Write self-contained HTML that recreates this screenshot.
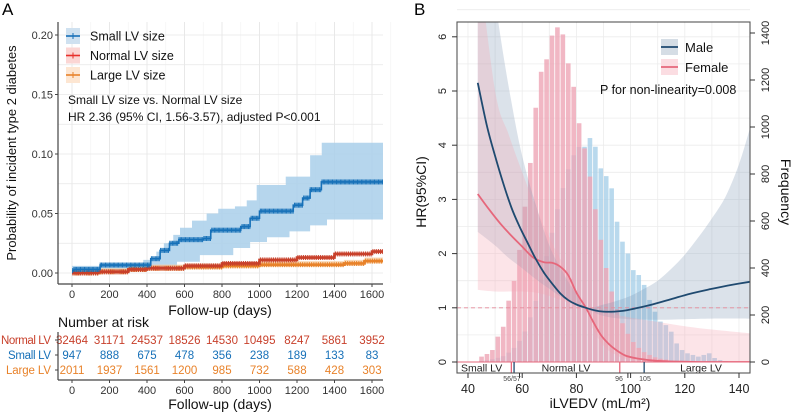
<!DOCTYPE html>
<html><head><meta charset="utf-8"><style>
html,body{margin:0;padding:0;background:#fff;}
svg{display:block;font-family:"Liberation Sans",sans-serif;}
</style></head><body>
<svg id="fig" width="797" height="412" viewBox="0 0 797 412" xmlns="http://www.w3.org/2000/svg">
<defs>
<clipPath id="clipA"><rect x="58" y="22" width="325" height="261"/></clipPath>
<clipPath id="clipB"><rect x="457" y="22" width="293" height="340"/></clipPath>
</defs>
<g id="panelA"></g>
<g id="panelB"></g>
</svg>
<script>
// ---------- Panel A data ----------
const kmTicks = [0,200,400,600,800,1000,1200,1400,1600];
const probTicks = [0,0.05,0.10,0.15,0.20];
const probTickLabels = ["0.00","0.05","0.10","0.15","0.20"];
const smallTimes = [0,10,150,420,470,520,570,700,740,900,950,1000,1180,1230,1270,1330];
const smallProb  = [0.002,0.003,0.0067,0.012,0.019,0.025,0.028,0.029,0.036,0.039,0.046,0.052,0.057,0.063,0.070,0.0765];
const smallUpT = [0,150,380,450,490,540,576,640,718,780,869,932,985,1140,1270,1332];
const smallUpP = [0.006,0.008,0.011,0.018,0.025,0.032,0.038,0.044,0.050,0.054,0.056,0.061,0.074,0.081,0.099,0.1095];
const smallLoT = [0,150,473,560,682,860,950,1040,1160,1270,1360];
const smallLoP = [0.001,0.0025,0.0045,0.0095,0.015,0.021,0.026,0.030,0.035,0.040,0.045];
const normTimes = [0,140,300,400,600,800,1000,1200,1400,1600];
const normProb  = [0,0.001,0.003,0.004,0.006,0.008,0.011,0.013,0.016,0.018];
const largeTimes = [0,150,300,400,600,800,1000,1200,1450,1560];
const largeProb  = [0,0.001,0.003,0.004,0.005,0.006,0.007,0.007,0.008,0.010];
const riskGroups = ["Normal LV","Small LV","Large LV"];
const riskNormal = [32464,31171,24537,18526,14530,10495,8247,5861,3952];
const riskSmall  = [947,888,675,478,356,238,189,133,83];
const riskLarge  = [2011,1937,1561,1200,985,732,588,428,303];

// ---------- Panel B data ----------
const binStart = 44, binWidth = 2;
const maleCounts = [5,8,12,18,25,40,60,90,130,190,260,350,450,550,650,740,820,880,915,916,953,916,824,791,739,597,512,462,391,370,328,264,214,172,157,129,79,51,37,30,23,30,37,17,8,4];
const femaleCounts = [23,34,51,108,150,261,345,477,661,847,1082,1235,1288,1389,1424,1394,1271,1171,1016,909,789,650,520,400,300,225,165,120,85,60,42,30,20,14,10,6,4];
const maleX  = [43.6,47,50,53,56,59,62,65,68,71,74,77,80,83.5,87,90,94,98,102,108,115,122,130,137,144];
const maleHR = [5.15,4.35,3.8,3.3,2.85,2.5,2.2,1.9,1.65,1.45,1.27,1.14,1.06,1.0,0.95,0.93,0.93,0.95,0.99,1.06,1.16,1.26,1.35,1.42,1.48];
const maleUpX = [43.6,48,52,56,60,65,70,75,80,83.5,90,95,100,105,110,115,120,125,130,135,140,144];
const maleUp  = [9,7.4,6.0,4.8,3.8,2.9,2.15,1.65,1.25,1.0,1.06,1.13,1.22,1.35,1.5,1.72,1.98,2.3,2.65,3.05,3.65,4.3];
const maleLoX = [43.6,50,55,60,65,70,75,80,83.5,88,93,100,110,120,130,144];
const maleLo  = [2.4,2.15,1.92,1.73,1.53,1.35,1.18,1.06,1.0,0.88,0.82,0.79,0.78,0.79,0.8,0.8];
const femX  = [43.6,48,52,56,60,64,68,71,74,77,80,83.5,86,89,92,95,98,102,108,115,125,144];
const femHR = [3.1,2.8,2.55,2.33,2.13,1.93,1.84,1.83,1.76,1.6,1.28,1.0,0.76,0.5,0.33,0.21,0.12,0.07,0.03,0.01,0.0,0.0];
const femUpX = [43.6,50,55,60,65,70,75,80,83.5,90,100,110,120,130,144];
const femUp  = [7.5,5.0,4.2,3.5,2.85,2.3,1.8,1.3,1.0,0.92,0.82,0.74,0.66,0.6,0.53];
const femLoX = [43.6,50,55,60,65,70,75,80,83.5,86,90,95,100,110,144];
const femLo  = [1.33,1.3,1.3,1.3,1.28,1.22,1.13,1.05,1.0,0.62,0.3,0.12,0.04,0.01,0.0];
const xBTicks = [40,60,80,100,120,140];
const hrTicks = [0,1,2,3,4,5,6];
const freqTicks = [0,200,400,600,800,1000,1200,1400];
const cutValues = [56,57,96,105];

const NS = "http://www.w3.org/2000/svg";
function mk(tag, attrs, parent){
  const el = document.createElementNS(NS, tag);
  for (const k in attrs) el.setAttribute(k, attrs[k]);
  parent.appendChild(el);
  return el;
}
function txt(s, attrs, parent){ const t = mk('text', attrs, parent); t.textContent = s; return t; }

// ---------------- PANEL A ----------------
const A = document.getElementById('panelA');
const xA = d => 72 + d*0.1875;
const yA = p => 273 - p*1190;
let e;
e = txt('A', {x:2, y:15, 'font-size':17, fill:'#000'}, A);


for (let d=0; d<=1700; d+=100){
  e = mk('line',{x1:xA(d),x2:xA(d),y1:22,y2:283,stroke:d%200===0?'#e6e6e6':'#f2f2f2','stroke-width':d%200===0?0.9:0.6},A);
  
  
}
for (let p=0; p<=0.2001; p+=0.025){
  e = mk('line',{x1:58,x2:383,y1:yA(p),y2:yA(p),stroke:'#e8e8e8','stroke-width':0.8},A);
  
  
}
function stepPts(ts, ps, end){
  let s = 'M'+xA(ts[0])+','+yA(ps[0]);
  for (let i=1;i<ts.length;i++) s += 'H'+xA(ts[i])+'V'+yA(ps[i]);
  return s + 'H'+xA(end);
}
function bandPath(ut, up, lt, lp, end){
  let s = 'M'+xA(ut[0])+','+yA(up[0]);
  for (let i=1;i<ut.length;i++) s += 'H'+xA(ut[i])+'V'+yA(up[i]);
  s += 'H'+xA(end)+'V'+yA(lp[lp.length-1]);
  for (let i=lt.length-1;i>0;i--) s += 'H'+xA(lt[i])+'V'+yA(lp[i-1]);
  return s + 'H'+xA(lt[0])+'Z';
}
const END = 1720;
const gA = mk('g',{'clip-path':'url(#clipA)'},A);


e = mk('path',{d:bandPath(smallUpT,smallUpP,smallLoT,smallLoP,END),fill:'#a9cfea',opacity:0.85},gA);


e = mk('path',{d:bandPath(largeTimes,largeProb.map(p=>p+0.003),largeTimes,largeProb.map(p=>Math.max(0,p-0.002)),END),fill:'#f7cfa6',opacity:0.8},gA);


e = mk('path',{d:bandPath(normTimes,normProb.map(p=>p+0.0012),normTimes,normProb.map(p=>Math.max(0,p-0.0012)),END),fill:'#eba79b',opacity:0.8},gA);


function censor(ts, ps, color, step){
  for (let d=step/2; d<END; d+=step){
    let p = ps[0];
    for (let i=0;i<ts.length;i++) if (ts[i]<=d) p = ps[i];
    const c = mk('line',{x1:xA(d),x2:xA(d),y1:yA(p)-2.5,y2:yA(p)+2.5,stroke:color,'stroke-width':1},gA);
    
    
  }
}
e = mk('path',{d:stepPts(largeTimes,largeProb,END),fill:'none',stroke:'#e8822a','stroke-width':2.6},gA);


censor(largeTimes,largeProb,'#e8822a',12);
e = mk('path',{d:stepPts(normTimes,normProb,END),fill:'none',stroke:'#c8402b','stroke-width':2.6},gA);


censor(normTimes,normProb,'#c8402b',10);
e = mk('path',{d:stepPts(smallTimes,smallProb,END),fill:'none',stroke:'#1670b8','stroke-width':1.6},gA);


censor(smallTimes,smallProb,'#1670b8',7);
e = mk('line',{x1:58,x2:58,y1:22,y2:284,stroke:'#444','stroke-width':1.2},A);


e = mk('line',{x1:58,x2:383,y1:284,y2:284,stroke:'#444','stroke-width':1.2},A);


probTicks.forEach((p,i)=>{
  e = mk('line',{x1:55,x2:58,y1:yA(p),y2:yA(p),stroke:'#444'},A);
  
  
  e = txt(probTickLabels[i],{x:53,y:yA(p)+4,'font-size':11,'text-anchor':'end',fill:'#333'},A);
  
  
});
kmTicks.forEach(d=>{
  e = mk('line',{x1:xA(d),x2:xA(d),y1:284,y2:287,stroke:'#444'},A);
  
  
  e = txt(String(d),{x:xA(d),y:298,'font-size':11,'text-anchor':'middle',fill:'#333'},A);
  
  
});
e = txt('Follow-up (days)',{x:220,y:315,'font-size':14,'text-anchor':'middle',fill:'#111'},A);


e = txt('Probability of incident type 2 diabetes',{x:0,y:0,'font-size':13,'text-anchor':'middle',fill:'#111',transform:'translate(16,153) rotate(-90)'},A);


const legCols = ['#1670b8','#e8302b','#e8822a'];
const legBg = ['#cfe1f0','#fbd6d4','#fde6d2'];
const legTxt = ['Small LV size','Normal LV size','Large LV size'];
legTxt.forEach((t,i)=>{
  const y = 36 + i*19.5;
  e = mk('rect',{x:66,y:y-8,width:14,height:16,fill:legBg[i]},A);
  
  
  e = mk('line',{x1:66,x2:80,y1:y,y2:y,stroke:legCols[i],'stroke-width':1.6},A);
  
  
  e = mk('line',{x1:73,x2:73,y1:y-3,y2:y+3,stroke:legCols[i],'stroke-width':1},A);
  
  
  e = txt(t,{x:90,y:y+4.5,'font-size':12.5,fill:'#111'},A);
  
  
});
e = txt('Small LV size vs. Normal LV size',{x:68,y:104,'font-size':12,fill:'#111'},A);


e = txt('HR 2.36 (95% CI, 1.56-3.57), adjusted P<0.001',{x:68,y:121,'font-size':12,fill:'#111'},A);


e = txt('Number at risk',{x:58,y:327,'font-size':14,fill:'#111'},A);


const riskRows = [riskNormal,riskSmall,riskLarge];
const riskCols = ['#c8402b','#1670b8','#e8822a'];
const riskLab = ['Normal LV','Small  LV','Large  LV'];
const riskLabW = [50,43,45];
riskRows.forEach((row,r)=>{
  const y = 344 + r*15;
  e = txt(riskLab[r],{x:51,y:y,'font-size':11.5,'text-anchor':'end',fill:riskCols[r],'xml:space':'preserve',textLength:riskLabW[r],lengthAdjust:'spacing'},A);
  
  
  e = mk('line',{x1:55,x2:58,y1:y-4,y2:y-4,stroke:'#444'},A);
  
  
  row.forEach((v,i)=>{
    e = txt(String(v),{x:xA(kmTicks[i]),y:y,'font-size':11.5,'text-anchor':'middle',fill:riskCols[r]},A);
    
    
  });
});
e = mk('line',{x1:58,x2:58,y1:332,y2:380,stroke:'#444','stroke-width':1.2},A);


e = mk('line',{x1:58,x2:383,y1:380,y2:380,stroke:'#444','stroke-width':1.2},A);


kmTicks.forEach(d=>{
  e = mk('line',{x1:xA(d),x2:xA(d),y1:380,y2:383,stroke:'#444'},A);
  
  
  e = txt(String(d),{x:xA(d),y:394,'font-size':11,'text-anchor':'middle',fill:'#333'},A);
  
  
});
e = txt('Follow-up (days)',{x:220,y:409,'font-size':14,'text-anchor':'middle',fill:'#111'},A);



// ---------------- PANEL B ----------------
const B = document.getElementById('panelB');
const xB = v => 468 + (v-40)*2.71;
const yH = h => 362 - h*54.2;
const yF = c => 362 - c*0.235;
e = txt('B',{x:414,y:15,'font-size':17,fill:'#000'},B);


for (let v=40; v<=145; v+=10){
  e = mk('line',{x1:xB(v),x2:xB(v),y1:22,y2:362,stroke:'#ececec','stroke-width':0.8},B);
  
  
}
for (let h=0; h<=6.5; h+=0.5){
  e = mk('line',{x1:457,x2:750,y1:yH(h),y2:yH(h),stroke:'#ececec','stroke-width':0.8},B);
  
  
}
const gB = mk('g',{'clip-path':'url(#clipB)'},B);


maleCounts.forEach((c,i)=>{
  const x0 = xB(binStart+i*binWidth);
  const r = mk('rect',{x:x0+0.4,y:yF(c),width:binWidth*2.71-0.8,height:362-yF(c),fill:'#a8cfe8',opacity:0.8},gB);
  
  
});
femaleCounts.forEach((c,i)=>{
  const x0 = xB(binStart+i*binWidth);
  const r = mk('rect',{x:x0+0.4,y:yF(c),width:binWidth*2.71-0.8,height:362-yF(c),fill:'#eea5b5',opacity:0.8},gB);
  
  
});
function crPts(xs, ys){
  const P = xs.map((x,i)=>[xB(x),yH(ys[i])]);
  let s = '';
  for (let i=0;i<P.length-1;i++){
    const p0=P[Math.max(0,i-1)], p1=P[i], p2=P[i+1], p3=P[Math.min(P.length-1,i+2)];
    const c1=[p1[0]+(p2[0]-p0[0])/6, p1[1]+(p2[1]-p0[1])/6];
    const c2=[p2[0]-(p3[0]-p1[0])/6, p2[1]-(p3[1]-p1[1])/6];
    s += 'C'+c1[0].toFixed(1)+','+c1[1].toFixed(1)+' '+c2[0].toFixed(1)+','+c2[1].toFixed(1)+' '+p2[0].toFixed(1)+','+p2[1].toFixed(1);
  }
  return {start:P[0], seg:s, pts:P};
}
function bandB(ux,uy,lx,ly){
  const u = crPts(ux,uy);
  const lr = crPts(lx.slice().reverse(), ly.slice().reverse());
  return 'M'+u.start[0]+','+u.start[1]+u.seg+'L'+lr.start[0]+','+lr.start[1]+lr.seg+'Z';
}
e = mk('path',{d:bandB(maleUpX,maleUp,maleLoX,maleLo),fill:'#7f98b2',opacity:0.28},gB);


e = mk('path',{d:bandB(femUpX,femUp,femLoX,femLo),fill:'#f4a7b4',opacity:0.3},gB);


e = mk('line',{x1:457,x2:750,y1:yH(1),y2:yH(1),stroke:'#e58a9a','stroke-width':0.9,'stroke-dasharray':'4,3'},gB);


let fc = crPts(femX,femHR);
e = mk('path',{d:'M'+fc.start[0]+','+fc.start[1]+fc.seg,fill:'none',stroke:'#e6677b','stroke-width':1.8},gB);


let mc = crPts(maleX,maleHR);
e = mk('path',{d:'M'+mc.start[0]+','+mc.start[1]+mc.seg,fill:'none',stroke:'#1f4a70','stroke-width':1.8},gB);


e = mk('rect',{x:457,y:362,width:293,height:11,fill:'#fff'},B);


e = mk('line',{x1:457,x2:750,y1:362,y2:362,stroke:'#e6677b','stroke-width':1},B);


const cutCols = ['#e6677b','#1f4a70','#e6677b','#1f4a70'];
cutValues.forEach((v,i)=>{
  e = mk('line',{x1:xB(v),x2:xB(v),y1:362,y2:373,stroke:cutCols[i],'stroke-width':1.3},B);
  
  
});
e = txt('Small LV',{x:461,y:371.5,'font-size':10.5,fill:'#222'},B);


e = txt('Normal LV',{x:566,y:371.5,'font-size':10.5,'text-anchor':'middle',fill:'#222'},B);


e = txt('Large LV',{x:701,y:371.5,'font-size':10.5,'text-anchor':'middle',fill:'#222'},B);


e = mk('rect',{x:457,y:22,width:293,height:351,fill:'none',stroke:'#555','stroke-width':1.1},B);


xBTicks.forEach(v=>{
  e = mk('line',{x1:xB(v),x2:xB(v),y1:373,y2:378,stroke:'#333'},B);
  
  
  e = txt(String(v),{x:xB(v),y:393,'font-size':12.5,'text-anchor':'middle',fill:'#222'},B);
  
  
});
[59,99].forEach(v=>{
  e = mk('line',{x1:xB(v),x2:xB(v),y1:373,y2:378,stroke:'#333'},B);
  
  
});
[['56/57',512],['96',619],['105',645]].forEach(a=>{
  e = txt(a[0],{x:a[1],y:381,'font-size':7,'text-anchor':'middle',fill:'#444'},B);
  
  
});
e = txt('iLVEDV (mL/m²)',{x:600,y:408,'font-size':14,'text-anchor':'middle',fill:'#111'},B);


hrTicks.forEach(h=>{
  e = mk('line',{x1:452,x2:457,y1:yH(h),y2:yH(h),stroke:'#333'},B);
  
  
  e = txt(String(h),{x:0,y:0,'font-size':11,'text-anchor':'middle',fill:'#222',transform:'translate(446,'+yH(h)+') rotate(-90)'},B);
  
  
});
e = txt('HR(95%CI)',{x:0,y:0,'font-size':14,'text-anchor':'middle',fill:'#111',transform:'translate(426,192) rotate(-90)'},B);


freqTicks.forEach(c=>{
  e = mk('line',{x1:750,x2:755,y1:yF(c),y2:yF(c),stroke:'#333'},B);
  
  
  e = txt(String(c),{x:0,y:0,'font-size':11,'text-anchor':'middle',fill:'#222',transform:'translate(769,'+yF(c)+') rotate(-90)'},B);
  
  
});
e = txt('Frequency',{x:0,y:0,'font-size':14,'text-anchor':'middle',fill:'#111',transform:'translate(781,192) rotate(90)'},B);


[['Male','#1f4a70','#d5dde5'],['Female','#e6677b','#fbdde2']].forEach((l,i)=>{
  const y = 47 + i*20;
  e = mk('rect',{x:661,y:y-8,width:17,height:16,fill:l[2]},B);
  
  
  e = mk('line',{x1:661,x2:678,y1:y,y2:y,stroke:l[1],'stroke-width':1.8},B);
  
  
  e = txt(l[0],{x:685,y:y+5,'font-size':13,fill:'#111'},B);
  
  
});
e = txt('P for non-linearity=0.008',{x:600,y:94,'font-size':12.5,fill:'#111'},B);


</script>
</body></html>
